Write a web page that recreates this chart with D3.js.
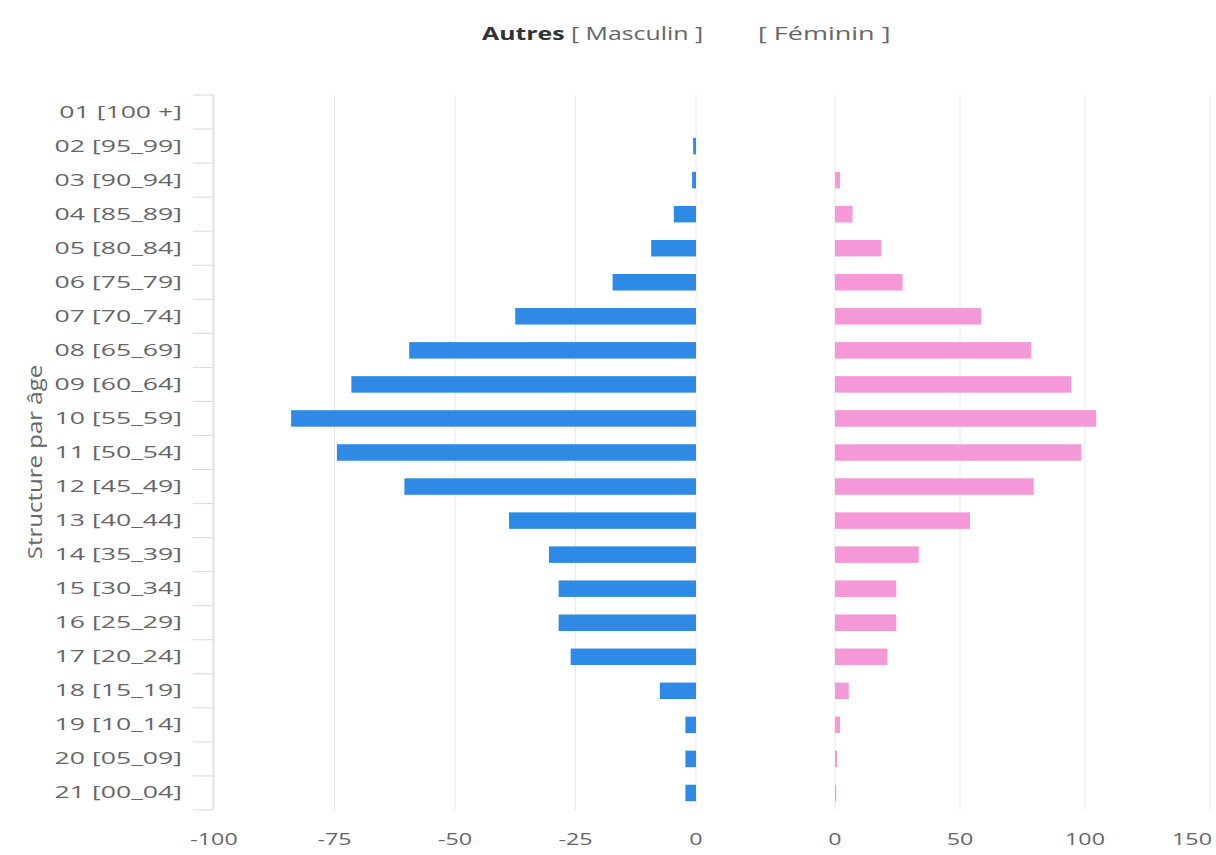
<!DOCTYPE html>
<html><head><meta charset="utf-8">
<script src="https://cdn.jsdelivr.net/npm/d3@7"></script>
<style>
body{margin:0;background:#fff;}
svg text{font-family:"Open Sans","Noto Sans",sans-serif;}
</style>
</head><body>
<svg id="c" width="1216" height="855"></svg>
<script>
const categories = ["01 [100 +]","02 [95_99]","03 [90_94]","04 [85_89]","05 [80_84]","06 [75_79]","07 [70_74]","08 [65_69]","09 [60_64]","10 [55_59]","11 [50_54]","12 [45_49]","13 [40_44]","14 [35_39]","15 [30_34]","16 [25_29]","17 [20_24]","18 [15_19]","19 [10_14]","20 [05_09]","21 [00_04]"];
const masculin = [0,-0.6,-0.8,-4.6,-9.3,-17.3,-37.5,-59.5,-71.5,-84,-74.5,-60.5,-38.8,-30.5,-28.5,-28.5,-26,-7.5,-2.2,-2.2,-2.2];
const feminin = [0,0,2,7,18.5,27,58.5,78.5,94.5,104.5,98.5,79.5,54,33.5,24.5,24.5,21,5.5,2,0.8,0.5];
const leftTicks = [-100,-75,-50,-25,0];
const rightTicks = [0,50,100,150];
const titleMain = "Autres";
const titleLeft = " [ Masculin ]";
const titleRight = "[ Féminin ]";
const yTitle = "Structure par âge";

(function(){
const svg = d3.select("#c");
const plotTop = 95, plotBottom = 810;
const y = d3.scaleBand().domain(categories).range([plotTop, plotBottom]).padding(0);
const xL = d3.scaleLinear().domain([-100, 0]).range([214, 696]);
const xR = d3.scaleLinear().domain([0, 150]).range([835, 1210]);
const barH = 16.5;
const SX = 1.72;

function stext(parent, str, x, yy, anchor, opts) {
  const o = Object.assign({sx: SX, sy: 1, size: 15, color: "#666", weight: "normal", rot: 0}, opts || {});
  return parent.append("text")
    .attr("transform", `translate(${x},${yy}) rotate(${o.rot}) scale(${o.sx},${o.sy})`)
    .attr("text-anchor", anchor)
    .attr("font-size", o.size)
    .attr("font-weight", o.weight)
    .attr("fill", o.color)
    .text(str);
}

// gridlines
const grid = svg.append("g");
leftTicks.forEach(t => grid.append("line")
  .attr("x1", xL(t)).attr("x2", xL(t)).attr("y1", plotTop).attr("y2", plotBottom)
  .attr("stroke", "#e8e8e8").attr("stroke-width", 1));
rightTicks.forEach(t => grid.append("line")
  .attr("x1", xR(t)).attr("x2", xR(t)).attr("y1", plotTop).attr("y2", plotBottom)
  .attr("stroke", "#e8e8e8").attr("stroke-width", 1));

// left y axis line and ticks at category boundaries
const axisColor = "#d4d8e0";
svg.append("line").attr("x1", 213).attr("x2", 213).attr("y1", plotTop).attr("y2", plotBottom)
  .attr("stroke", axisColor);
const bounds = categories.map(c => y(c)).concat([plotBottom]);
svg.append("g").selectAll("line").data(bounds).join("line")
  .attr("x1", 193).attr("x2", 213).attr("y1", d => d).attr("y2", d => d)
  .attr("stroke", axisColor);

// category labels
const lab = svg.append("g");
categories.forEach(c => stext(lab, c, 182, y(c) + y.bandwidth() / 2 + 5.5, "end", {size: 15.5}));

// bars
svg.append("g").selectAll("rect").data(masculin).join("rect")
  .attr("x", d => xL(d)).attr("width", d => xL(0) - xL(d))
  .attr("y", (d, i) => y(categories[i]) + (y.bandwidth() - barH) / 2)
  .attr("height", barH).attr("fill", "#2f8ae5");
svg.append("g").selectAll("rect").data(feminin).join("rect")
  .attr("x", xR(0)).attr("width", d => xR(d) - xR(0))
  .attr("y", (d, i) => y(categories[i]) + (y.bandwidth() - barH) / 2)
  .attr("height", barH).attr("fill", "#f598d8");

// x tick labels
const xl = svg.append("g");
leftTicks.forEach(t => stext(xl, String(t), xL(t), 845, "middle", {size: 15.5, sx: 1.5}));
rightTicks.forEach((t, i) => {
  const x = (i === rightTicks.length - 1) ? xR(t) - 18 : xR(t);
  stext(xl, String(t), x, 845, "middle", {size: 15.5, sx: 1.5});
});

// title
const tt = svg.append("text")
  .attr("transform", `translate(482,40) scale(1.38,1)`)
  .attr("font-size", 18);
tt.append("tspan").attr("font-weight", "bold").attr("fill", "#333").text(titleMain);
tt.append("tspan").attr("fill", "#666").text(titleLeft);
stext(svg, titleRight, 758, 40, "start", {size: 18, sx: 1.5});

// y axis title
stext(svg, yTitle, 42, 462, "middle", {size: 16, rot: -90, sx: 1.5, sy: 1.3});
})();
</script>
</body></html>
